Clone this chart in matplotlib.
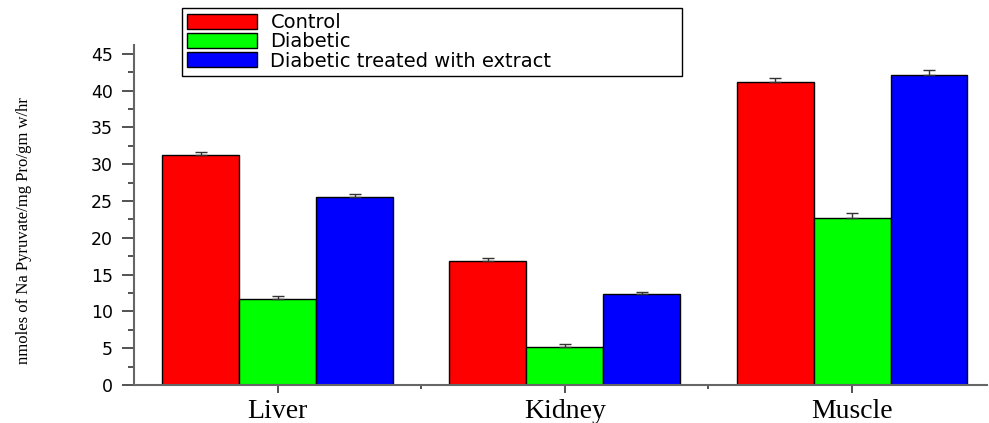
import numpy as np
import matplotlib
matplotlib.use("Agg")
import matplotlib.pyplot as plt
from matplotlib.ticker import MultipleLocator, FixedLocator

# enzyme activity per tissue (mean and SEM, upward error only)
tissues = ["Liver", "Kidney", "Muscle"]
groups = ["Control", "Diabetic", "Diabetic treated with extract"]
control = [31.25, 16.9, 41.1]
diabetic = [11.7, 5.2, 22.7]
treated = [25.5, 12.3, 42.05]
control_err = [0.4, 0.4, 0.6]
diabetic_err = [0.4, 0.35, 0.6]
treated_err = [0.4, 0.4, 0.75]

colors = ["#ff0000", "#00ff00", "#0000ff"]
values = [control, diabetic, treated]
errors = [control_err, diabetic_err, treated_err]

fig = plt.figure(figsize=(9.89, 4.23), dpi=100)
ax = fig.add_axes([0.1355, 0.0898, 0.8625, 0.804])

x = np.arange(1, len(tissues) + 1)
w = 0.268
for i, (vals, errs, c, name) in enumerate(zip(values, errors, colors, groups)):
    pos = x + (i - 1) * w
    ax.bar(pos, vals, width=w, color=c, edgecolor="black", linewidth=1.0,
           label=name, zorder=2)
    ax.errorbar(pos, vals, yerr=[np.zeros(len(errs)), errs], fmt="none",
                ecolor="#333333", elinewidth=1.0, capsize=4.5, capthick=1.0,
                zorder=3)

ax.set_xlim(0.5, 3.47)
ax.set_ylim(0, 46.2)

for side in ["top", "right"]:
    ax.spines[side].set_visible(False)
for side in ["left", "bottom"]:
    ax.spines[side].set_color("#666666")
    ax.spines[side].set_linewidth(1.5)

ax.yaxis.set_major_locator(MultipleLocator(5))
ax.yaxis.set_minor_locator(MultipleLocator(2.5))
ax.set_xticks(x)
ax.set_xticklabels(tissues, fontfamily="Liberation Serif", fontsize=20)
ax.xaxis.set_minor_locator(FixedLocator([1.5, 2.5]))

ax.tick_params(axis="y", which="major", direction="out", length=9, width=1.3,
               color="#444444", labelsize=12.5, pad=6)
ax.tick_params(axis="y", which="minor", direction="out", length=4, width=1.3,
               color="#444444")
ax.tick_params(axis="x", which="major", direction="out", length=6, width=1.3,
               color="#444444", pad=4)
ax.tick_params(axis="x", which="minor", direction="out", length=3, width=1.3,
               color="#444444")

fig.text(0.024, 0.456, "nmoles of Na Pyruvate/mg Pro/gm w/hr", rotation=90,
         ha="center", va="center", fontfamily="Liberation Serif", fontsize=12)

leg = fig.legend(loc="upper left", bbox_to_anchor=(0.184, 0.827, 0.5056, 0.154),
                 mode="expand", borderaxespad=0, fancybox=False,
                 edgecolor="black", framealpha=1, fontsize=14,
                 handlelength=3.6, handleheight=0.8, handletextpad=0.7,
                 labelspacing=0.02, borderpad=0.25)
leg.get_frame().set_linewidth(1.0)

fig.savefig("out.png", dpi=100)
